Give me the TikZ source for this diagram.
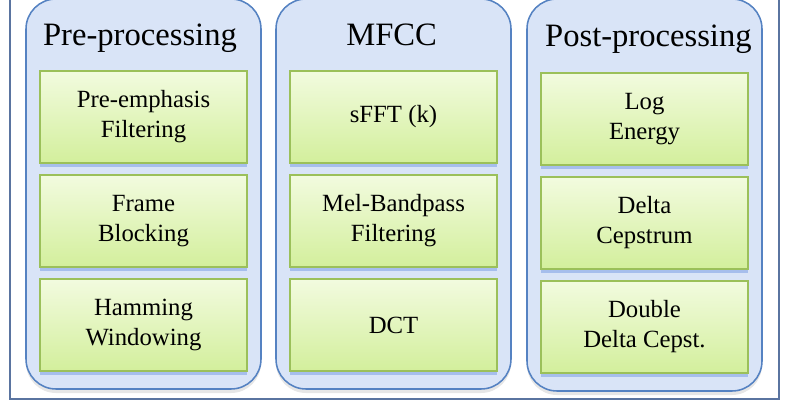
\documentclass[tikz,border=0pt]{standalone}
\usepackage{fontspec}
\setmainfont{Liberation Serif}
\usetikzlibrary{shadows}

\definecolor{colfill}{HTML}{D9E4F7}
\definecolor{colline}{HTML}{5582C2}
\definecolor{colshade}{HTML}{A6BEEC}
\definecolor{boxtop}{HTML}{F2FBDF}
\definecolor{boxbot}{HTML}{D3EF9C}
\definecolor{boxline}{HTML}{9BC05A}
\definecolor{frameline}{HTML}{5A74A0}

\begin{document}
\begin{tikzpicture}[
	column/.style={draw=colline, fill=colfill, line width=1.1pt, rounded corners=0.75cm,
		drop shadow={shadow xshift=0cm, shadow yshift=-0.1cm, opacity=0.2}},
	stagebox/.style={draw=boxline, line width=1.1pt, top color=boxtop, bottom color=boxbot,
		minimum width=5.175cm, minimum height=2.3cm, align=center, inner sep=0pt,
		font=\fontsize{17.6}{21.3}\selectfont,
		drop shadow={shadow xshift=0cm, shadow yshift=-0.09cm, fill=colshade, opacity=1}},
	coltitle/.style={anchor=base, font=\fontsize{23.2}{27}\selectfont}]
	\useasboundingbox (0,0) rectangle (19.675,10.125);
	\clip (0,0) rectangle (19.675,10.125);
	% outer frame
	\draw[frameline, line width=0.9pt] (0.25,0.15) rectangle (19.475,10.6);
	% the three groups
	\draw[column] (0.65,0.4) rectangle (6.525,10.15);
	\draw[column] (6.9,0.4) rectangle (12.775,10.15);
	\draw[column] (13.175,0.35) rectangle (19.05,10.15);
	\node[coltitle] (pretitle) at (3.5,8.975) {Pre-processing};
	\node[coltitle] (mfcctitle) at (9.79,8.975) {MFCC};
	\node[coltitle] (posttitle) at (16.21,8.95) {Post-processing};
	% pre-processing
	\node[stagebox] (preemph) at (3.5875,7.2) {Pre-emphasis\\Filtering};
	\node[stagebox] (framing) at (3.5875,4.6) {Frame\\Blocking};
	\node[stagebox] (window) at (3.5875,2.0) {Hamming\\Windowing};
	% mfcc
	\node[stagebox] (sfft) at (9.8375,7.2) {sFFT (k)};
	\node[stagebox] (melbank) at (9.8375,4.6) {Mel-Bandpass\\Filtering};
	\node[stagebox] (dct) at (9.8375,2.0) {DCT};
	% post-processing
	\node[stagebox] (logen) at (16.1125,7.15) {Log\\Energy};
	\node[stagebox] (delta) at (16.1125,4.55) {Delta\\Cepstrum};
	\node[stagebox] (ddelta) at (16.1125,1.95) {Double\\Delta Cepst.};
\end{tikzpicture}
\end{document}
